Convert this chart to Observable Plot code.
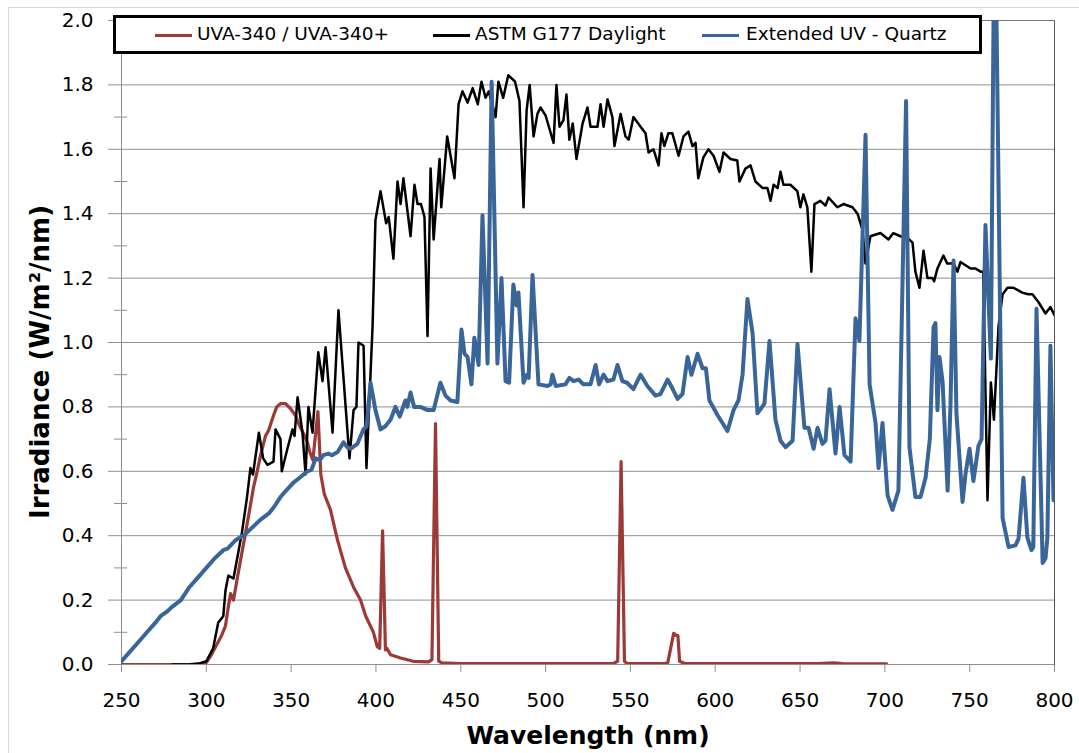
<!DOCTYPE html>
<html>
<head>
<meta charset="utf-8">
<script src="https://cdn.jsdelivr.net/npm/d3@7"></script>
<script src="https://cdn.jsdelivr.net/npm/@observablehq/plot@0.6"></script>
<style>
  html, body { margin: 0; padding: 0; background: #fff; }
  #wrap { position: relative; width: 1079px; height: 753px; overflow: hidden; font-family: "DejaVu Sans", sans-serif; }
  #outer { position: absolute; left: 8px; top: 7px; width: 1100px; height: 800px; border-left: 1px solid #d9d9d9; border-top: 1px solid #d9d9d9; pointer-events: none; }
  #legend { position: absolute; left: 113px; top: 15px; width: 863px; height: 33px; border: 3px solid #000; background: #fff; }
  .sw { position: absolute; top: 16px; height: 3px; }
  .lt { position: absolute; top: 4px; font-size: 18.5px; line-height: 24px; color: #000; white-space: nowrap; }
  #ytitle { position: absolute; left: 40px; top: 362px; transform: translate(-50%, -50%) rotate(-90deg); font-size: 26px; font-weight: bold; line-height: 30px; white-space: nowrap; color: #000; }
</style>
</head>
<body>
<div id="wrap"><div id="outer"></div></div>
<script>
// Series labels and colours
const seriesNames = ["UVA-340 / UVA-340+", "ASTM G177 Daylight", "Extended UV - Quartz"];
const seriesColors = ["#9B3A37", "#000000", "#3A6598"];
const xTitle = "Wavelength (nm)";
const yTitle = "Irradiance (W/m²/nm)";

// Axis ticks
const xTicks = [250, 300, 350, 400, 450, 500, 550, 600, 650, 700, 750, 800];
const yTicks = [0, 0.2, 0.4, 0.6, 0.8, 1.0, 1.2, 1.4, 1.6, 1.8, 2.0];
const yMinor = [0.1, 0.3, 0.5, 0.7, 0.9, 1.1, 1.3, 1.5, 1.7, 1.9];

// UVA-340 / UVA-340+  [wavelength nm, irradiance]
const uva340 = [[250,0],[290,0],[296,0.002],[300,0.006],[303,0.03],[306.5,0.065],[309,0.09],[311.3,0.12],[313,0.18],[314.3,0.22],[316,0.2],[319,0.29],[323,0.405],[325.5,0.48],[327.8,0.55],[330,0.6],[332,0.65],[334.9,0.71],[336.7,0.727],[339.6,0.773],[341.5,0.8],[343.7,0.81],[346.7,0.81],[349.6,0.795],[352.6,0.773],[355.5,0.735],[357.5,0.715],[359.6,0.69],[361,0.66],[362.8,0.635],[365.8,0.785],[367.5,0.59],[369.5,0.53],[373.2,0.48],[377.4,0.385],[382,0.3],[386.8,0.24],[390.9,0.2],[394,0.15],[398.5,0.1],[400.8,0.055],[402.2,0.05],[403.9,0.415],[405.6,0.045],[406.5,0.05],[408.6,0.03],[414.5,0.02],[422,0.01],[431,0.008],[433,0.015],[435.1,0.748],[437,0.01],[439,0.005],[450,0.003],[500,0.003],[540,0.003],[542.5,0.01],[544.5,0.63],[546.5,0.01],[548,0.003],[570,0.003],[572,0.005],[575.5,0.097],[577,0.09],[578,0.09],[579,0.01],[582,0.003],[660,0.003],[670,0.005],[675,0.003],[701,0.002]];

// ASTM G177 Daylight
const astmG177 = [[280,0],[290,0],[295,0.002],[300,0.01],[304,0.05],[307,0.13],[310,0.15],[311.3,0.23],[313,0.276],[316,0.267],[321,0.41],[324,0.52],[326,0.61],[327.5,0.59],[331,0.72],[333.5,0.64],[336,0.62],[339.6,0.63],[340.8,0.73],[343.7,0.7],[344.5,0.6],[347.8,0.67],[350.8,0.73],[352,0.71],[353.8,0.83],[356.7,0.72],[358.5,0.59],[360.2,0.8],[362.6,0.72],[366,0.97],[368.5,0.88],[370.3,0.985],[374.4,0.72],[377.9,1.1],[384.4,0.64],[386.8,0.79],[388.5,0.8],[389.7,1.0],[392.7,0.99],[394.4,0.61],[398,1.05],[399.7,1.38],[402.7,1.47],[406,1.37],[407.5,1.39],[410.3,1.26],[412.7,1.5],[414.5,1.43],[416.2,1.51],[420.4,1.33],[422.7,1.49],[424.5,1.43],[426.5,1.43],[428.6,1.39],[430.4,1.02],[432.2,1.54],[434,1.32],[437.5,1.57],[438.5,1.42],[442,1.64],[446.3,1.51],[448.7,1.74],[451,1.78],[454,1.745],[457,1.79],[460,1.74],[462.2,1.81],[464.6,1.76],[466.5,1.78],[470.5,1.7],[472.2,1.81],[475,1.76],[478,1.83],[482,1.81],[484.6,1.75],[487,1.42],[488.8,1.72],[490.6,1.8],[492.9,1.64],[495.2,1.71],[497,1.73],[500,1.705],[504.7,1.62],[506.4,1.8],[508.2,1.67],[510.5,1.69],[512.3,1.77],[514,1.63],[516,1.68],[518.2,1.57],[521.8,1.68],[524.7,1.73],[526.5,1.67],[530.6,1.67],[532.4,1.74],[534.2,1.67],[536.5,1.755],[539.4,1.7],[540.6,1.61],[544.2,1.71],[547.1,1.64],[549,1.63],[551.8,1.7],[556,1.67],[558.9,1.65],[560.7,1.59],[563.6,1.6],[566.6,1.55],[568.3,1.65],[570,1.61],[572.4,1.65],[574.7,1.65],[578.4,1.58],[581.3,1.64],[584.2,1.655],[586.6,1.61],[588.4,1.62],[590,1.51],[593,1.575],[596,1.6],[599,1.58],[602.5,1.53],[604.9,1.59],[609,1.57],[613,1.565],[614.3,1.5],[617.8,1.54],[620.8,1.55],[623.7,1.5],[627.8,1.48],[630.8,1.48],[632.6,1.44],[634.4,1.49],[636.8,1.48],[638.5,1.53],[640.2,1.49],[644.3,1.49],[648.4,1.47],[650.2,1.42],[652,1.46],[654.3,1.42],[656.7,1.22],[658.5,1.43],[662,1.44],[665,1.425],[666.8,1.45],[672,1.42],[675.6,1.43],[680.9,1.42],[683.9,1.4],[686.8,1.35],[688.6,1.245],[691.5,1.33],[697.4,1.34],[702.1,1.32],[705,1.34],[709.2,1.33],[713.3,1.325],[716.3,1.31],[718,1.22],[720.4,1.17],[722.8,1.285],[725.1,1.2],[728.1,1.2],[729,1.19],[731,1.23],[734.5,1.27],[736.8,1.245],[740.5,1.245],[742.8,1.22],[744.6,1.25],[750.5,1.23],[753.4,1.23],[756.4,1.22],[758,1.22],[760.5,0.51],[762.5,0.876],[764.3,0.76],[767,1.05],[769.4,1.15],[772.3,1.17],[775.8,1.17],[781,1.155],[784.5,1.15],[787,1.15],[790.6,1.125],[794.7,1.09],[797.6,1.11],[800,1.085]];

// Extended UV - Quartz
const extUvQuartz = [[250,0.01],[255,0.04],[260,0.07],[265,0.1],[270,0.13],[273,0.15],[277,0.165],[280,0.18],[285,0.2],[290,0.24],[295,0.27],[300,0.3],[305,0.33],[310,0.355],[312.5,0.36],[317,0.385],[323,0.405],[327,0.425],[332,0.45],[337,0.47],[340,0.49],[343.7,0.52],[347,0.54],[351.4,0.565],[355,0.58],[359.6,0.6],[362,0.605],[364.5,0.64],[367,0.635],[369,0.65],[372,0.655],[374,0.65],[377.4,0.66],[380.9,0.69],[383,0.675],[385,0.67],[389,0.685],[392.6,0.73],[394.5,0.74],[396.8,0.875],[399.7,0.79],[402.7,0.73],[405.5,0.74],[408.6,0.76],[411.5,0.8],[414,0.77],[417.4,0.82],[418.5,0.8],[420.4,0.845],[422.5,0.8],[426.2,0.8],[430.4,0.79],[434,0.79],[438,0.875],[441,0.835],[444,0.82],[448,0.815],[450.4,1.04],[452.2,0.965],[454,0.955],[456.3,0.87],[458,1.015],[460.5,0.93],[462.8,1.395],[465.8,0.935],[468.2,1.81],[471.6,0.935],[474,1.2],[476.4,0.88],[478.5,0.875],[481,1.18],[482.9,1.115],[484,1.155],[487,0.875],[489,0.9],[490,0.89],[492.3,1.21],[495.8,0.87],[501.1,0.865],[503,0.87],[504,0.9],[506,0.865],[511.7,0.87],[514,0.89],[516.5,0.88],[519.4,0.885],[522.3,0.87],[526.5,0.87],[529.5,0.93],[531.5,0.87],[534.2,0.9],[536.5,0.88],[540,0.885],[542.4,0.93],[545.3,0.88],[548,0.875],[551.8,0.855],[556,0.9],[560,0.865],[564.8,0.835],[567.7,0.84],[571.9,0.885],[574.5,0.86],[577.8,0.825],[580.7,0.84],[583.7,0.955],[586,0.9],[589.6,0.965],[592.5,0.92],[594.5,0.92],[596.6,0.82],[601.3,0.775],[604.3,0.75],[607.2,0.725],[610.8,0.79],[613.7,0.82],[616.1,0.9],[619,1.135],[622,1.03],[624.9,0.78],[629,0.81],[632,1.005],[635.5,0.76],[638.5,0.695],[641.4,0.675],[645.6,0.695],[648.5,0.995],[652.6,0.735],[655,0.735],[658,0.67],[660.3,0.735],[663.2,0.685],[665,0.695],[667.4,0.855],[670.9,0.655],[673.3,0.8],[676.2,0.65],[679.8,0.63],[682.7,1.075],[685,1.005],[688.6,1.645],[691,0.87],[694.5,0.75],[696.3,0.61],[698.6,0.75],[701.6,0.525],[704.5,0.48],[708,0.54],[712.5,1.75],[714.5,0.675],[718,0.52],[721,0.52],[724,0.58],[726.5,0.7],[728.7,1.047],[729.8,1.06],[731,0.79],[732.2,0.955],[734,0.88],[737,0.54],[738.7,0.81],[740.5,1.255],[742.2,0.78],[745.8,0.505],[747.5,0.59],[749.9,0.67],[752.2,0.57],[755.2,0.68],[757,0.7],[759.3,1.365],[762.5,0.95],[764.2,2.1],[765.6,2.1],[769.4,0.455],[772.9,0.365],[777,0.37],[778.8,0.39],[781.7,0.58],[784,0.395],[786.4,0.355],[787.5,0.365],[789.4,1.105],[793,0.315],[794.7,0.33],[795.8,0.395],[797.6,0.99],[799.4,0.51],[800,0.51]];

const gridColor = "#8f8f8f";

const chart = Plot.plot({
  width: 1079,
  height: 753,
  marginLeft: 121,
  marginRight: 25,
  marginTop: 20,
  marginBottom: 89,
  style: { fontFamily: "DejaVu Sans", fontSize: "20px", color: "#000", background: "transparent", overflow: "visible" },
  x: { domain: [250, 800] },
  y: { domain: [0, 2] },
  marks: [
    Plot.gridY(yTicks, { stroke: gridColor, strokeOpacity: 1 }),
    Plot.axisY(yTicks, { tickSize: 13, tickPadding: 15, stroke: gridColor, tickFormat: d3.format(".1f"), label: null }),
    Plot.axisY(yMinor, { tickSize: 13, dx: 6, stroke: gridColor, tickFormat: () => "", label: null }),
    Plot.axisX(xTicks, { tickSize: 8, tickPadding: 20, stroke: gridColor, tickFormat: d3.format("d"), label: null }),
    Plot.frame({ anchor: "left", stroke: gridColor }),
    Plot.frame({ anchor: "bottom", stroke: gridColor }),
    Plot.frame({ anchor: "right", stroke: "#555" }),
    Plot.frame({ anchor: "top", stroke: "#777" }),
    Plot.line(uva340, { stroke: seriesColors[0], strokeWidth: 3.2, strokeLinejoin: "round", clip: true }),
    Plot.line(astmG177, { stroke: seriesColors[1], strokeWidth: 2.5, strokeLinejoin: "round", clip: true }),
    Plot.line(extUvQuartz, { stroke: seriesColors[2], strokeWidth: 4, strokeLinejoin: "round", clip: true }),
    Plot.text([xTitle], { frameAnchor: "bottom", dy: 79, fontSize: 25, fontWeight: "bold", fill: "#000" })
  ]
});

const wrap = document.getElementById("wrap");
chart.style.position = "absolute";
chart.style.left = "0px";
chart.style.top = "0px";
wrap.appendChild(chart);

// Rotated y-axis title
const yt = document.createElement("div");
yt.id = "ytitle";
yt.textContent = yTitle;
wrap.appendChild(yt);

// Legend (HTML, overlaid inside the plot area as in the reference)
const legend = document.createElement("div");
legend.id = "legend";
const swatchX = [39, 317, 586];
const textX = [81, 359, 630];
seriesNames.forEach((name, i) => {
  const sw = document.createElement("div");
  sw.className = "sw";
  sw.style.left = swatchX[i] + "px";
  sw.style.width = "37px";
  sw.style.background = seriesColors[i];
  legend.appendChild(sw);
  const t = document.createElement("div");
  t.className = "lt";
  t.style.left = textX[i] + "px";
  t.textContent = name;
  legend.appendChild(t);
});
wrap.appendChild(legend);
</script>
</body>
</html>
